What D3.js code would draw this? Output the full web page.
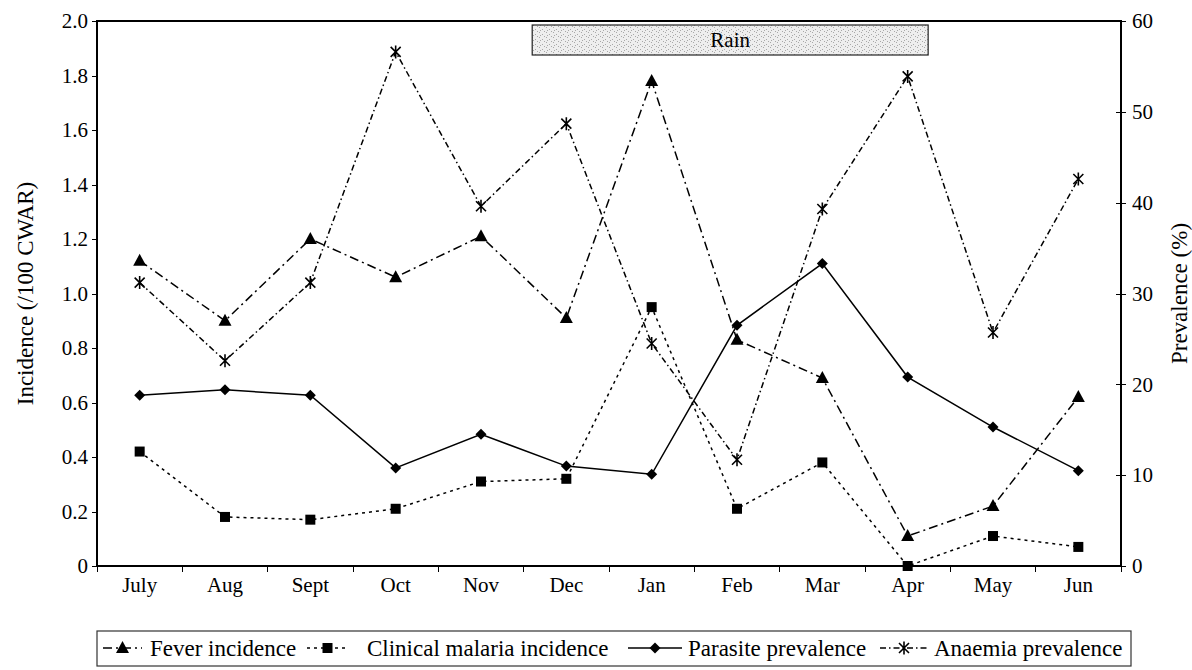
<!DOCTYPE html>
<meta charset="utf-8">
<style>

body {
  margin: 0;
  background: #fff;
}

svg {
  font-family: "Times New Roman", Tinos, "Liberation Serif", "Noto Serif", "DejaVu Serif", FreeSerif, Times, serif;
  font-size: 21px;
}

.axis text {
  font-size: 21px;
}

.axis path,
.axis line,
.frame {
  stroke: #000;
  shape-rendering: crispEdges;
}

.frame {
  fill: none;
  stroke-width: 1.5;
}

.line {
  fill: none;
  stroke: #000;
  stroke-width: 1.5;
}

.legend text,
.title {
  font-size: 23px;
}

</style>
<body>
<script src="https://cdn.jsdelivr.net/npm/d3@7"></script>
<script>

var months = ["July", "Aug", "Sept", "Oct", "Nov", "Dec", "Jan", "Feb", "Mar", "Apr", "May", "Jun"];

// incidence (/100 CWAR), left axis
var fever    = [1.12, 0.90, 1.20, 1.06, 1.21, 0.91, 1.78, 0.83, 0.69, 0.11, 0.22, 0.62];
var clinical = [0.42, 0.18, 0.17, 0.21, 0.31, 0.32, 0.95, 0.21, 0.38, 0.00, 0.11, 0.07];

// prevalence (%), right axis
var parasite = [18.8, 19.4, 18.8, 10.8, 14.5, 11.0, 10.1, 26.5, 33.3, 20.8, 15.3, 10.5];
var anaemia  = [31.2, 22.6, 31.2, 56.6, 39.6, 48.7, 24.5, 11.7, 39.3, 53.9, 25.7, 42.6];

var leftTicks = [0, 0.2, 0.4, 0.6, 0.8, 1.0, 1.2, 1.4, 1.6, 1.8, 2.0];
var rightTicks = [0, 10, 20, 30, 40, 50, 60];

// rain period, in month positions (0 = start of July)
var rainSpan = [5.1, 9.74];

var width = 1192,
    height = 670,
    margin = {top: 21, right: 71, bottom: 104, left: 97};

var w = width - margin.left - margin.right,
    h = height - margin.top - margin.bottom;

var x = d3.scaleBand().domain(months).range([0, w]);
var xPos = d3.scaleLinear().domain([0, months.length]).range([0, w]);
var yL = d3.scaleLinear().domain([0, 2]).range([h, 0]);
var yR = d3.scaleLinear().domain([0, 60]).range([h, 0]);

var svg = d3.select("body").append("svg")
    .attr("width", width)
    .attr("height", height);

var defs = svg.append("defs");
var pat = defs.append("pattern")
    .attr("id", "stipple")
    .attr("patternUnits", "userSpaceOnUse")
    .attr("width", 7)
    .attr("height", 5);
pat.append("rect").attr("width", 7).attr("height", 5).attr("fill", "#eeeeee");
[[1, 1], [4, 3], [6, 0], [2, 4]].forEach(function(p) {
  pat.append("rect").attr("x", p[0]).attr("y", p[1]).attr("width", 1).attr("height", 1).attr("fill", "#a8a8a8");
});

var g = svg.append("g")
    .attr("transform", "translate(" + margin.left + "," + margin.top + ")");

// rain box
g.append("rect")
    .attr("x", xPos(rainSpan[0]))
    .attr("y", 4)
    .attr("width", xPos(rainSpan[1]) - xPos(rainSpan[0]))
    .attr("height", 30)
    .attr("fill", "url(#stipple)")
    .attr("stroke", "#222")
    .attr("stroke-width", 1.2);

g.append("text")
    .attr("x", (xPos(rainSpan[0]) + xPos(rainSpan[1])) / 2)
    .attr("y", 19)
    .attr("dy", "0.35em")
    .attr("text-anchor", "middle")
    .style("font-size", "21px")
    .text("Rain");

function clean(a) {
  a.attr("font-family", null).attr("font-size", null);
  a.select(".domain").remove();
}

// axes
g.append("g")
    .attr("class", "axis")
    .call(d3.axisLeft(yL).tickValues(leftTicks).tickSize(5).tickPadding(4)
      .tickFormat(function(d) { return d === 0 ? "0" : d3.format(".1f")(d); }))
    .call(clean);

g.append("g")
    .attr("class", "axis")
    .attr("transform", "translate(" + w + ",0)")
    .call(d3.axisRight(yR).tickValues(rightTicks).tickSize(5).tickPadding(6))
    .call(clean)
    .call(function(a) { a.selectAll(".tick line").attr("x1", -5); });

var xa = g.append("g")
    .attr("class", "axis")
    .attr("transform", "translate(0," + h + ")")
    .call(d3.axisBottom(x).tickSize(0).tickPadding(11))
    .call(clean);

xa.selectAll(".bound")
    .data(d3.range(months.length + 1))
  .enter().append("line")
    .attr("x1", function(d) { return xPos(d); })
    .attr("x2", function(d) { return xPos(d); })
    .attr("y1", 0)
    .attr("y2", 6)
    .attr("stroke", "#000");

g.append("rect")
    .attr("class", "frame")
    .attr("width", w)
    .attr("height", h);

// axis titles
svg.append("text")
    .attr("class", "title")
    .attr("transform", "translate(25," + (margin.top + h / 2) + ") rotate(-90)")
    .attr("text-anchor", "middle")
    .attr("dy", "0.35em")
    .text("Incidence (/100 CWAR)");

svg.append("text")
    .attr("class", "title")
    .attr("transform", "translate(1179," + (margin.top + h / 2) + ") rotate(-90)")
    .attr("text-anchor", "middle")
    .attr("dy", "0.35em")
    .text("Prevalence (%)");

// series
var cx = function(d, i) { return x(months[i]) + x.bandwidth() / 2; };

var series = [
  {name: "Fever incidence", values: fever, y: yL, dash: "9,4,2,4", marker: "triangle"},
  {name: "Clinical malaria incidence", values: clinical, y: yL, dash: "3,4", marker: "square"},
  {name: "Parasite prevalence", values: parasite, y: yR, dash: null, marker: "diamond"},
  {name: "Anaemia prevalence", values: anaemia, y: yR, dash: "6,3,1.5,3", marker: "star"}
];

function drawMarker(sel, type) {
  if (type === "triangle") {
    sel.append("path").attr("d", "M0,-7L6.5,5L-6.5,5Z").attr("fill", "#000");
  } else if (type === "square") {
    sel.append("rect").attr("x", -5).attr("y", -5).attr("width", 10).attr("height", 10).attr("fill", "#000");
  } else if (type === "diamond") {
    sel.append("path").attr("d", "M0,-5.5L5.5,0L0,5.5L-5.5,0Z").attr("fill", "#000");
  } else {
    sel.append("path").attr("d", "M-5,-5L5,5M-5,5L5,-5M0,-6.5L0,6.5")
      .attr("stroke", "#000").attr("stroke-width", 1.6).attr("fill", "none");
  }
}

series.forEach(function(s) {
  var line = d3.line()
      .x(cx)
      .y(function(d) { return s.y(d); });

  g.append("path")
      .datum(s.values)
      .attr("class", "line")
      .attr("stroke-dasharray", s.dash)
      .attr("d", line);

  g.selectAll(".m-" + s.marker)
      .data(s.values)
    .enter().append("g")
      .attr("class", "m-" + s.marker)
      .attr("transform", function(d, i) { return "translate(" + cx(d, i) + "," + s.y(d) + ")"; })
      .each(function() { drawMarker(d3.select(this), s.marker); });
});

// legend
var legend = svg.append("g").attr("class", "legend");
legend.append("rect")
    .attr("x", 97)
    .attr("y", 631)
    .attr("width", 1034)
    .attr("height", 35)
    .attr("fill", "none")
    .attr("stroke", "#333")
    .attr("stroke-width", 1.2);

var legendPos = [
  {line: [103, 142], text: 150},
  {line: [307, 348], text: 367},
  {line: [628, 682], text: 688},
  {line: [880, 928], text: 934}
];

series.forEach(function(s, i) {
  var p = legendPos[i], ly = 648;
  legend.append("line")
      .attr("x1", p.line[0])
      .attr("x2", p.line[1])
      .attr("y1", ly)
      .attr("y2", ly)
      .attr("stroke", "#000")
      .attr("stroke-width", 1.5)
      .attr("stroke-dasharray", s.dash);
  drawMarker(legend.append("g").attr("transform", "translate(" + (p.line[0] + p.line[1]) / 2 + "," + ly + ")"), s.marker);
  legend.append("text")
      .attr("x", p.text)
      .attr("y", ly)
      .attr("dy", "0.35em")
      .text(s.name);
});

</script>
